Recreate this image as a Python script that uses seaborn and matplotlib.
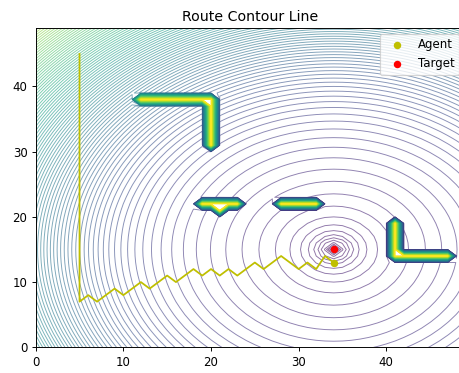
import numpy as np
import matplotlib
matplotlib.use("Agg")
import matplotlib.pyplot as plt
import seaborn as sns

# Grid world and planning result
grid_size = 50
target = (34, 15)
agent = (34, 13)
route_x = [5, 5, 6, 7, 9, 10, 12, 13, 15, 16, 18, 19, 20, 21, 22, 23, 25, 26, 28, 30, 31, 32, 33, 34]
route_y = [45, 7, 8, 7, 9, 8, 10, 9, 11, 10, 12, 11, 12, 11, 12, 11, 13, 12, 14, 12, 13, 12, 14, 13]

# Obstacle blocks as (x0, x1, y0, y1) inclusive cell ranges
obstacles = [
    (12, 20, 38, 38),
    (20, 20, 31, 37),
    (19, 23, 22, 22),
    (21, 21, 21, 21),
    (28, 32, 22, 22),
    (41, 41, 15, 19),
    (41, 47, 14, 14),
]

# Potential field: sharp well at the target, gentle slope in the middle,
# steepening towards the far corners
cells = np.arange(grid_size)
X, Y = np.meshgrid(cells, cells)
d = np.hypot(X - target[0], Y - target[1])
well, well_scale, slope = 6.0, 1.5, 0.45
far_gain, far_mid, far_width = 3.3, 29.0, 4.83
field = (slope * d
         + well * well_scale * (1.0 - np.exp(-d / well_scale))
         + far_gain * far_width * np.log1p(np.exp((d - far_mid) / far_width)))
obstacle_value = 1.18 * field.max()
for x0, x1, y0, y1 in obstacles:
    field[y0:y1 + 1, x0:x1 + 1] = obstacle_value
levels = np.arange(field.min(), obstacle_value, 1.0)

dpi = 85
fig = plt.figure(figsize=(459 / dpi, 373 / dpi), dpi=dpi)
ax = fig.add_axes([35.7 / 459, 25.7 / 373, 429.5 / 459, 319.5 / 373])

ax.contour(X, Y, field, levels=levels, cmap="viridis", linewidths=0.8, alpha=0.6)

sns.lineplot(x=route_x, y=route_y, sort=False, estimator=None, color="y",
             linewidth=1.5, ax=ax, legend=False)
sns.scatterplot(x=[agent[0]], y=[agent[1]], color="y", s=40, linewidth=0,
                label="Agent", ax=ax, zorder=5)
sns.scatterplot(x=[target[0]], y=[target[1]], color="r", s=40, linewidth=0,
                label="Target", ax=ax, zorder=5)

ax.set_xlim(0, grid_size - 1)
ax.set_ylim(0, grid_size - 1)
ax.set_title("Route Contour Line")
ax.legend(loc="upper right")

fig.savefig("out.png", dpi=dpi)
